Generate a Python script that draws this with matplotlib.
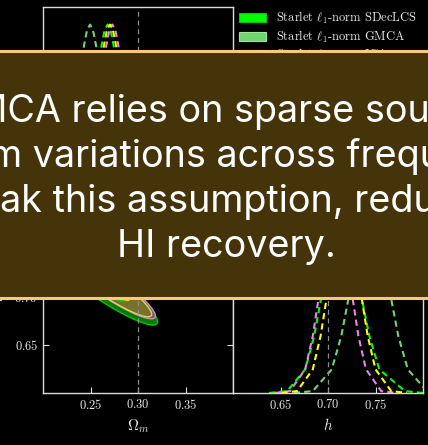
import numpy as np
import matplotlib.pyplot as plt
from matplotlib.patches import Ellipse, Patch, Rectangle

plt.rcParams['mathtext.fontset'] = 'cm'
plt.rcParams['axes.unicode_minus'] = False

# --- data --------------------------------------------------------------------
methods = ['SDecLCS', 'GMCA', 'ICA', 'PCA']
colors = ['#00ff00', '#6fd66f', '#ee82ee', '#ffff00']
edge_colors = ['#00c800', '#9be89b', '#c890c8', '#d8d850']

truth_om = 0.30
truth_h = 0.70

# normalised 1D marginals (same profile points for every curve)
prof = [0.0003, 0.011, 0.135, 0.325, 0.607, 0.755, 0.882, 0.969, 1.0,
        0.969, 0.882, 0.755, 0.607, 0.325, 0.135, 0.011, 0.0003]

om_sdeclcs = [0.218, 0.2305, 0.243, 0.2492, 0.2555, 0.2586, 0.2617, 0.2649, 0.268,
              0.2711, 0.2743, 0.2774, 0.2805, 0.2868, 0.293, 0.3055, 0.318]
om_gmca = [0.1995, 0.212, 0.2245, 0.2307, 0.237, 0.2401, 0.2432, 0.2464, 0.2495,
           0.2526, 0.2558, 0.2589, 0.262, 0.2683, 0.2745, 0.287, 0.2995]
om_ica = [0.223, 0.2355, 0.248, 0.2542, 0.2605, 0.2636, 0.2667, 0.2699, 0.273,
          0.2761, 0.2793, 0.2824, 0.2855, 0.2918, 0.298, 0.3105, 0.323]
om_pca = [0.2205, 0.233, 0.2455, 0.2517, 0.258, 0.2611, 0.2642, 0.2674, 0.2705,
          0.2736, 0.2768, 0.2799, 0.283, 0.2893, 0.2955, 0.308, 0.3205]

h_sdeclcs = [0.638, 0.657, 0.676, 0.6855, 0.695, 0.6997, 0.7045, 0.7092, 0.714,
             0.7188, 0.7235, 0.7283, 0.733, 0.7435, 0.754, 0.781, 0.800]
h_gmca = [0.664, 0.684, 0.704, 0.714, 0.724, 0.729, 0.734, 0.739, 0.744,
          0.749, 0.754, 0.759, 0.764, 0.774, 0.784, 0.804, 0.824]
h_ica = [0.644, 0.660, 0.676, 0.684, 0.692, 0.696, 0.700, 0.704, 0.708,
         0.712, 0.716, 0.720, 0.724, 0.732, 0.740, 0.756, 0.772]
h_pca = [0.651, 0.6675, 0.684, 0.6922, 0.7005, 0.7046, 0.7087, 0.7129, 0.717,
         0.7211, 0.7253, 0.7294, 0.7335, 0.7418, 0.750, 0.7665, 0.783]

om_curves = [om_sdeclcs, om_gmca, om_ica, om_pca]
h_curves = [h_sdeclcs, h_gmca, h_ica, h_pca]

# 2D contours (centre, full axes of the 2 and 1 sigma ellipses, tilt)
ell_om = [0.258, 0.245, 0.262, 0.261]
ell_h = [0.714, 0.742, 0.716, 0.716]
ell_len2 = [0.150, 0.150, 0.135, 0.128]
ell_wid2 = [0.028, 0.028, 0.025, 0.023]
ell_len1 = [0.066, 0.066, 0.066, 0.072]
ell_wid1 = [0.012, 0.012, 0.012, 0.012]
ell_angle = [-34, -34, -34, -34]

# shaded colours of the filled contours as they show on black
fill2 = ['#0b780b', '#3f8a3f', '#7a567a', '#77712c']
fill1 = ['#00d800', '#66c866', '#e48ae4', '#e8e800']

om_ticks = [0.25, 0.30, 0.35]
h_ticks = [0.65, 0.70, 0.75]

banner_lines = ['GMCA relies on sparse sources',
                'beam variations across frequency',
                'break this assumption, reducing',
                'HI recovery.']

# --- figure -------------------------------------------------------------------
W, H = 428, 445
fig = plt.figure(figsize=(W / 100, H / 100), dpi=100)
fig.patch.set_facecolor('black')


def px_box(x0, y0, x1, y1):
    return [x0 / W, (H - y1) / H, (x1 - x0) / W, (y1 - y0) / H]


fg = '#dcdcdc'
ax_om = fig.add_axes(px_box(43, 7, 233, 200))
ax_2d = fig.add_axes(px_box(43, 200, 233, 393))
ax_h = fig.add_axes(px_box(233, 200, 423, 393))

for ax in [ax_om, ax_2d, ax_h]:
    ax.set_facecolor('black')
    for sp in ax.spines.values():
        sp.set_color(fg)
        sp.set_linewidth(1.0)
    ax.tick_params(colors=fg, labelcolor='#e8e8e8', direction='in', length=4,
                   width=0.8, labelsize=9)

dash = (0, (3, 2))

# Omega_m marginal
for xs, c in zip(om_curves, colors):
    ax_om.plot(xs, prof, color=c, lw=1.5, ls=dash)
ax_om.axvline(truth_om, color='#8c8c8c', lw=0.9, ls=(0, (4, 3)))
ax_om.set_xlim(0.2, 0.4)
ax_om.set_ylim(0, 1.1)
ax_om.tick_params(length=0, labelbottom=False, labelleft=False)

# 2D panel
for i in range(len(methods)):
    e2 = Ellipse((ell_om[i], ell_h[i]), ell_len2[i], ell_wid2[i], angle=ell_angle[i],
                 facecolor=fill2[i], edgecolor=edge_colors[i], lw=1.0)
    ax_2d.add_patch(e2)
for i in range(len(methods)):
    e1 = Ellipse((ell_om[i], ell_h[i]), ell_len1[i], ell_wid1[i], angle=ell_angle[i],
                 facecolor=fill1[i], edgecolor='none')
    ax_2d.add_patch(e1)
ax_2d.axvline(truth_om, color='#8c8c8c', lw=0.9, ls=(0, (4, 3)))
ax_2d.axhline(truth_h, color='#8c8c8c', lw=0.9, ls=(0, (4, 3)))
ax_2d.set_xlim(0.2, 0.4)
ax_2d.set_ylim(0.6, 0.8)
ax_2d.set_xticks(om_ticks, ['$%.2f$' % t for t in om_ticks])
ax_2d.set_yticks(h_ticks, ['$%.2f$' % t for t in h_ticks])
ax_2d.tick_params(right=True, top=True)
ax_2d.set_xlabel(r'$\Omega_m$', fontsize=11, color='#e8e8e8', labelpad=4)
ax_2d.set_ylabel(r'$h$', fontsize=11, color='#e8e8e8', labelpad=6)

# h marginal
for xs, c in zip(h_curves, colors):
    ax_h.plot(xs, prof, color=c, lw=1.5, ls=dash)
ax_h.axvline(truth_h, color='#8c8c8c', lw=0.9, ls=(0, (4, 3)))
ax_h.set_xlim(0.6, 0.8)
ax_h.set_ylim(0, 1.1)
ax_h.set_xticks(h_ticks, ['$%.2f$' % t for t in h_ticks])
ax_h.set_yticks([])
ax_h.set_xlabel(r'$h$', fontsize=11, color='#e8e8e8', labelpad=4)

# legend in the empty corner
handles = [Patch(facecolor=c, edgecolor=ec, lw=0.8) for c, ec in zip(colors, edge_colors)]
labels = [r'Starlet $\ell_1$-norm ' + m for m in methods]
leg = fig.legend(handles, labels, loc='upper left', bbox_to_anchor=(239 / W, (H - 10) / H),
                 frameon=False, borderpad=0, borderaxespad=0, handlelength=2.16,
                 handleheight=0.8, handletextpad=0.8, labelspacing=0.2,
                 prop={'family': 'cmr10', 'size': 9})
for t in leg.get_texts():
    t.set_color('#e8e8e8')

# banner over the middle
banner = Rectangle((-0.05, (H - 297.5) / H), 1.1, 247 / H, transform=fig.transFigure,
                   facecolor='#45330a', edgecolor='#fbc878', lw=2.2, zorder=10)
fig.add_artist(banner)
baselines = [122, 167, 212, 257]
for line, b in zip(banner_lines, baselines):
    fig.text(226 / W, (H - b) / H, line, ha='center', va='baseline', color='white',
             fontsize=27.2, family='Inter', zorder=11)

fig.savefig('out.png', dpi=100, facecolor='black')
